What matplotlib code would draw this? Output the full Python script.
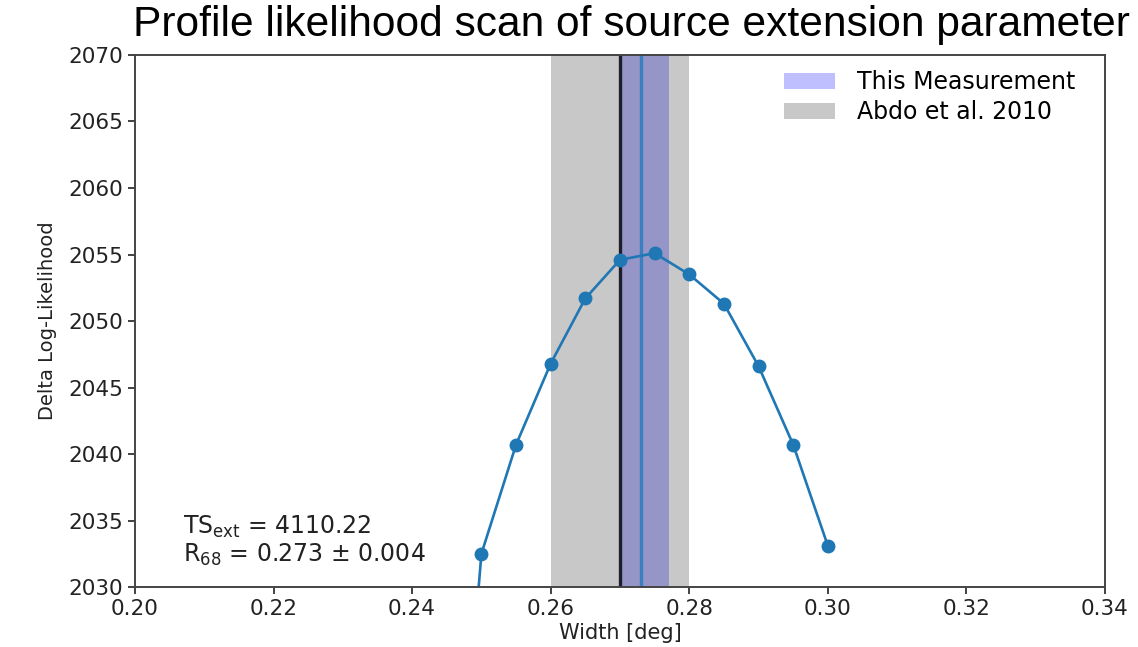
import numpy as np
import matplotlib
matplotlib.use("Agg")
import matplotlib.pyplot as plt

# profile likelihood scan values
widths = [0.245, 0.25, 0.255, 0.26, 0.265, 0.27, 0.275, 0.28, 0.285, 0.29, 0.295, 0.30]
delta_logl = [2000.7, 2032.5, 2040.7, 2046.8, 2051.7, 2054.6, 2055.1, 2053.5, 2051.3, 2046.6, 2040.7, 2033.1]

# best fit and reference measurement
r68 = 0.273
r68_err = 0.004
band_low, band_high = 0.2702, 0.2771   # shaded band as drawn
ts_ext = 4110.22
abdo_center = 0.27
abdo_low, abdo_high = 0.26, 0.28

x_ticks = [0.20, 0.22, 0.24, 0.26, 0.28, 0.30, 0.32, 0.34]
y_ticks = [2030, 2035, 2040, 2045, 2050, 2055, 2060, 2065, 2070]

fig = plt.figure(figsize=(11.38, 6.47), dpi=100)
ax = fig.add_axes([0.1186, 0.0927, 0.8524, 0.8223])

ax.axvspan(band_low, band_high, color="b", alpha=0.25, lw=0, label="This Measurement")
ax.axvspan(abdo_low, abdo_high, color="k", alpha=0.215, lw=0, label="Abdo et al. 2010")
ax.axvline(abdo_center, color="#1e1e2a", lw=2.4)
ax.axvline(r68, color="#3a7fc0", lw=2.4)

ax.plot(widths, delta_logl, marker="o", color="#1f77b4", lw=1.9, ms=9)

ax.text(0.207, 2034.0, r"TS$_{\rm ext}$ = %.2f" % ts_ext, fontsize=17, color="#222222")
ax.text(0.207, 2031.9, r"R$_{68}$ = %.3f $\pm$ %.3f" % (r68, r68_err), fontsize=17, color="#222222")

ax.set_xlim(0.20, 0.34)
ax.set_ylim(2030, 2070)
ax.set_xticks(x_ticks)
ax.set_xticklabels(["%.2f" % t for t in x_ticks])
ax.set_yticks(y_ticks)
ax.tick_params(labelsize=15.5, colors="#222222", length=5, width=1.2)
for s in ax.spines.values():
    s.set_color("#444444")
    s.set_linewidth(1.4)

ax.set_xlabel("Width [deg]", fontsize=15, color="#222222", labelpad=3)
ax.set_ylabel("Delta Log-Likelihood", fontsize=14, color="#222222", labelpad=8)

ax.legend(loc="upper right", frameon=False, fontsize=17,
          handlelength=2.2, handletextpad=0.9, borderaxespad=0.25,
          labelspacing=0.25, bbox_to_anchor=(0.985, 1.0))

fig.text(0.5545, 0.962, "Profile likelihood scan of source extension parameter",
         ha="center", va="center", fontsize=30.6, family="Liberation Sans", color="black")

fig.savefig("out.png", dpi=100)
